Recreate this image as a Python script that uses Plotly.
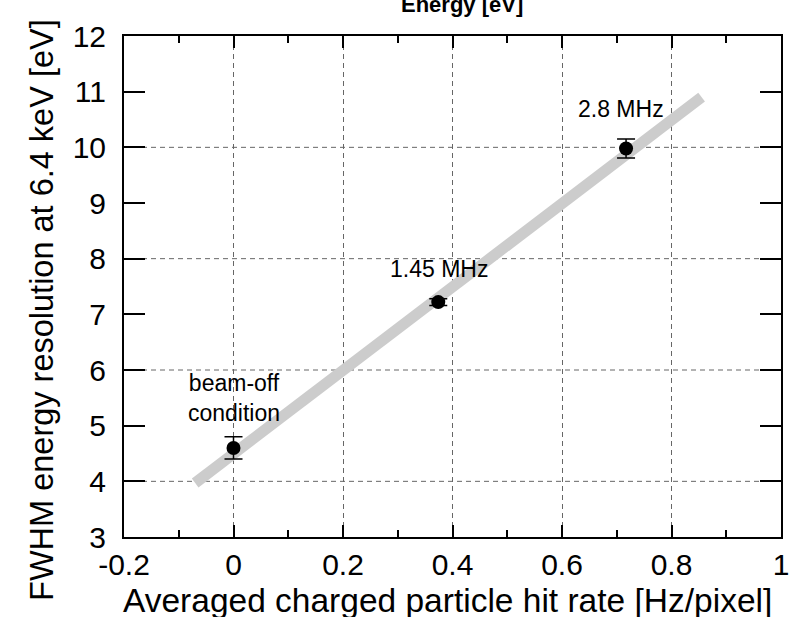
import plotly.graph_objects as go

# Data
rates = [0.0, 0.374, 0.717]
fwhm = [4.60, 7.22, 9.98]
fwhm_err = [0.20, 0.06, 0.17]
labels = ["beam-off<br>condition", "1.45 MHz", "2.8 MHz"]
label_x = [0.0, 0.375, 0.707]
label_y = [5.5, 7.81, 10.68]
fit_x = [-0.07, 0.855]
fit_y = [3.97, 10.90]
x_ticks = [-0.2, 0, 0.2, 0.4, 0.6, 0.8, 1.0]
x_ticktext = ["-0.2", "0", "0.2", "0.4", "0.6", "0.8", "1"]
y_grid = [4, 6, 8, 10]

FONT = "Liberation Sans, Arial, Helvetica, sans-serif"

fig = go.Figure()
fig.add_trace(go.Scatter(x=fit_x, y=fit_y, mode="lines",
                         line=dict(color="#cccccc", width=11), hoverinfo="skip",
                         showlegend=False))
fig.add_trace(go.Scatter(x=rates, y=fwhm, mode="markers",
                         marker=dict(color="black", size=14),
                         error_y=dict(type="data", array=fwhm_err, color="black",
                                      thickness=1.5, width=9),
                         showlegend=False))

for v in y_grid:
    fig.add_shape(type="line", xref="paper", x0=0, x1=1, yref="y", y0=v, y1=v,
                  line=dict(color="#666666", width=1, dash="5px,4px"), layer="below")

for t, x, y in zip(labels, label_x, label_y):
    fig.add_annotation(x=x, y=y, text=t, showarrow=False,
                       font=dict(size=23, color="black", family=FONT))

# titles as annotations
fig.add_annotation(xref="paper", yref="paper", x=0.514, y=1.062, text="<b>Energy [eV]</b>",
                   showarrow=False, xanchor="center", yanchor="middle",
                   font=dict(size=22, color="black", family=FONT))
fig.add_annotation(xref="paper", yref="paper", x=-0.125, y=0.453,
                   text="FWHM energy resolution at 6.4 keV [eV]", textangle=-90,
                   showarrow=False, xanchor="center", yanchor="middle",
                   font=dict(size=32.5, color="black", family=FONT))
fig.add_annotation(xref="paper", yref="paper", x=0.493, y=-0.126,
                   text="Averaged charged particle hit rate [Hz/pixel]",
                   showarrow=False, xanchor="center", yanchor="middle",
                   font=dict(size=33.5, color="black", family=FONT))

fig.update_xaxes(range=[-0.2, 1.0], tickvals=x_ticks, ticktext=x_ticktext,
                 automargin=False,
                 showline=True, linecolor="black", linewidth=2, mirror="ticks",
                 ticks="inside", ticklen=12, tickwidth=1.5, tickcolor="black",
                 showgrid=True, gridcolor="#666666", gridwidth=1, griddash="5px,4px",
                 zeroline=False,
                 minor=dict(dtick=0.1, tick0=0, ticks="inside", ticklen=7, tickwidth=1.5,
                            tickcolor="black", showgrid=False),
                 tickfont=dict(size=30, color="black", family=FONT))
fig.update_yaxes(range=[3, 12], dtick=1, tick0=3, automargin=False,
                 showline=True, linecolor="black", linewidth=2, mirror="ticks",
                 ticks="inside", ticklen=21, tickwidth=1.5, tickcolor="black",
                 showgrid=False, zeroline=False, ticklabelstandoff=10,
                 tickfont=dict(size=30, color="black", family=FONT))

fig.update_layout(width=793, height=617, plot_bgcolor="white", paper_bgcolor="white",
                  margin=dict(l=124, r=12, t=36, b=80),
                  font=dict(family=FONT, color="black"))

fig.write_html("out.html", config={"displayModeBar": False},
               post_script="document.body.style.margin='0px';")
